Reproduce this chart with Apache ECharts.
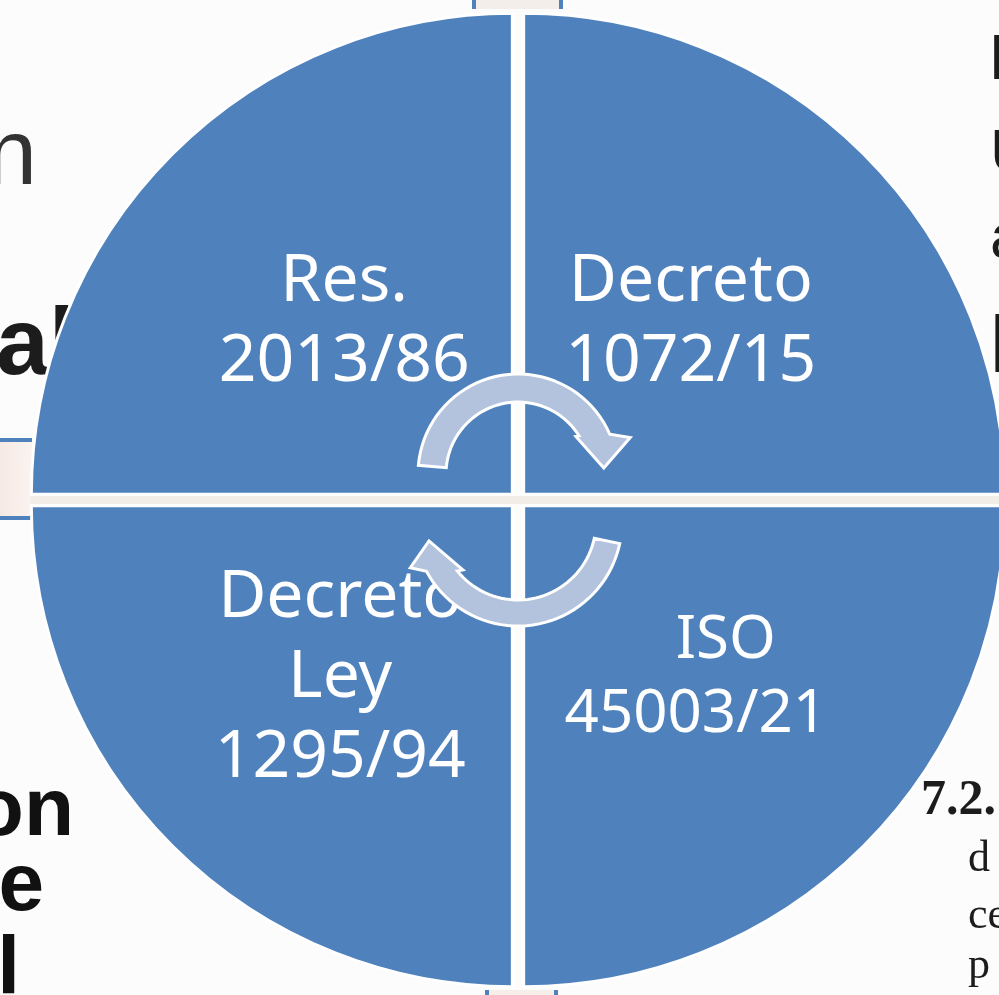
<!DOCTYPE html>
<html>
<head>
<meta charset="utf-8">
<script src="https://cdn.jsdelivr.net/npm/echarts@6/dist/echarts.min.js"></script>
<style>
  html, body { margin: 0; padding: 0; background: #fcfcfc; }
  #chart { width: 999px; height: 995px; }
</style>
</head>
<body>
<div id="chart"></div>
<script>
// cycle steps, clockwise from top-left
const stepNames = ['Res. 2013/86', 'Decreto 1072/15', 'ISO 45003/21', 'Decreto Ley 1295/94'];
const stepLabels = ['Res.\n2013/86', 'Decreto\n1072/15', '{pad|ISO}\n45003/21', 'Decreto\nLey\n1295/94'];
const stepValues = [1, 1, 1, 1];

// background page fragments (cut off behind the diagram)
const leftFragments = ['on', 'e', 'l'];
const rightFragments = ['l', 'U', 'a', 'l'];
const serifFragments = ['d', 'ce', 'p'];

// ring arrow: screen angles in degrees, clockwise on screen
// head base goes from inner corner (aI) to outer corner (aO), tip at tipA
function ringArrow(cx, cy, R, r, a0, aI, aO, tipA, headIn, headOut) {
    let pts = [];
    let rad = d => d * Math.PI / 180;
    let p = (rr, a) => [cx + rr * Math.cos(rad(a)), cy + rr * Math.sin(rad(a))];
    let rIn = r - headIn, rOut = R + headOut;
    let angAt = rr => aI + (aO - aI) * (rr - rIn) / (rOut - rIn);
    let endOuter = angAt(R), endInner = angAt(r);
    let n = 40;
    for (let i = 0; i <= n; i++) pts.push(p(R, a0 + (endOuter - a0) * i / n));
    pts.push(p(rOut, aO));
    pts.push(p((R + r) / 2, tipA));
    pts.push(p(rIn, aI));
    for (let i = n; i >= 0; i--) pts.push(p(r, a0 + (endInner - a0) * i / n));
    return pts;
}

let chart = echarts.init(document.getElementById('chart'));

let arrowStyle = { fill: '#b3c3dd', stroke: '#ffffff', lineWidth: 3 };
let dark = '#1c1c1c';

let graphics = [
    // top / bottom tabs behind the circle
    { type: 'rect', z: 0, shape: { x: 472, y: 0, width: 91, height: 9 }, style: { fill: '#f3eee9' } },
    { type: 'rect', z: 0, shape: { x: 472, y: 0, width: 4, height: 9 }, style: { fill: '#4f81bd' } },
    { type: 'rect', z: 0, shape: { x: 559, y: 0, width: 4, height: 9 }, style: { fill: '#4f81bd' } },
    { type: 'rect', z: 0, shape: { x: 485, y: 990, width: 73, height: 5 }, style: { fill: '#f6eee8' } },
    { type: 'rect', z: 0, shape: { x: 485, y: 990, width: 4, height: 5 }, style: { fill: '#4f81bd' } },
    { type: 'rect', z: 0, shape: { x: 554, y: 990, width: 4, height: 5 }, style: { fill: '#4f81bd' } },
    // left band with blue rules
    {
        type: 'rect', z: 0, shape: { x: 0, y: 441, width: 40, height: 76 },
        style: { fill: new echarts.graphic.LinearGradient(0, 0, 1, 0, [
            { offset: 0, color: '#f6e9e4' }, { offset: 1, color: '#fbf6f3' }]) }
    },
    { type: 'rect', z: 0, shape: { x: 0, y: 438, width: 32, height: 4 }, style: { fill: '#4f81bd' } },
    { type: 'rect', z: 0, shape: { x: 0, y: 516, width: 34, height: 4 }, style: { fill: '#4f81bd' } },
    { type: 'rect', z: 0, shape: { x: 30, y: 496, width: 970, height: 8 }, style: { fill: '#f2ede7' } },
    // left text fragments
    { type: 'text', z: 0, x: 37, y: 159, style: { text: 'n', font: '92px "Liberation Sans"', fill: '#333333', align: 'right', verticalAlign: 'middle' } },
    { type: 'text', z: 0, x: -4, y: 348, style: { text: 'al', font: 'bold 95px "Liberation Sans"', fill: dark, align: 'left', verticalAlign: 'middle' } },
    // right serif fragments
    { type: 'text', z: 0, x: 921, y: 801, style: { text: '7.2.', font: 'bold 50px "Liberation Serif"', fill: dark, align: 'left', verticalAlign: 'middle' } }
];

leftFragments.forEach((t, i) => {
    graphics.push({ type: 'text', z: 0, x: [74, 44, 20][i], y: [812, 887, 970][i],
        style: { text: t, font: 'bold 82px "Liberation Sans"', fill: '#111111', align: 'right', verticalAlign: 'middle' } });
});
rightFragments.forEach((t, i) => {
    graphics.push({ type: 'text', z: 0, x: 990, y: [62, 155, 240, 350][i],
        style: { text: t, font: (i === 3 ? 80 : 62) + 'px "Liberation Sans"', fill: dark, align: 'left', verticalAlign: 'middle' } });
});
serifFragments.forEach((t, i) => {
    graphics.push({ type: 'text', z: 0, x: 968, y: [859, 916, 966][i],
        style: { text: t, font: '44px "Liberation Serif"', fill: dark, align: 'left', verticalAlign: 'middle' } });
});

// cycle arrows on top of the circle
graphics.push({ type: 'polygon', z: 100, shape: { points: ringArrow(518, 474, 100, 72, 185, 327, 342, 356, 3, 18) }, style: arrowStyle });
graphics.push({ type: 'polygon', z: 100, shape: { points: ringArrow(518, 522, 104, 78, 12, 139, 157, 168, 5, 13) }, style: arrowStyle });

// label box padding nudges text toward the circle centre
let labelPad = [[0, 0, 0, 8], [0, 10, 0, 0], [0, 0, 0, 14], [0, 0, 0, 0]];

chart.setOption({
    backgroundColor: '#fcfcfc',
    animation: false,
    graphic: { elements: graphics },
    series: [{
        type: 'pie',
        z: 2,
        silent: true,
        center: [518, 500],
        radius: 481,
        startAngle: 180,
        clockwise: true,
        selectedMode: 'multiple',
        selectedOffset: 8,
        itemStyle: { color: '#4f81bd', borderColor: '#ffffff', borderWidth: 3 },
        label: {
            position: 'inside',
            color: '#ffffff',
            fontFamily: 'Noto Sans',
            fontSize: 66,
            lineHeight: 80
        },
        labelLine: { show: false },
        emphasis: { disabled: true },
        data: stepValues.map((v, i) => ({
            value: v,
            name: stepNames[i],
            selected: true,
            label: i === 2 ? {
                formatter: stepLabels[i],
                fontSize: 60,
                lineHeight: 74,
                rich: { pad: { color: '#ffffff', fontFamily: 'Noto Sans', fontSize: 60, lineHeight: 74, padding: [0, 0, 0, 60] } }
            } : { formatter: stepLabels[i], padding: labelPad[i] }
        }))
    }]
});
</script>
</body>
</html>
